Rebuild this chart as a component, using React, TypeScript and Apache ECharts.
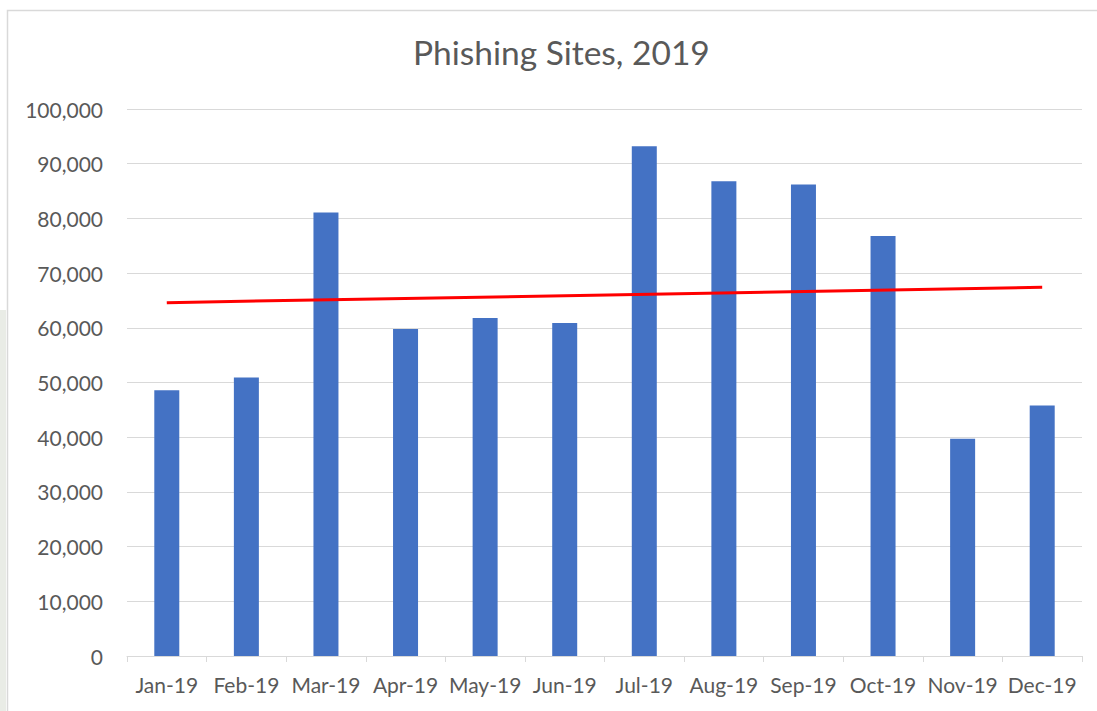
import React, { useEffect, useRef } from "react";
import * as echarts from "echarts";

const months = ["Jan-19", "Feb-19", "Mar-19", "Apr-19", "May-19", "Jun-19", "Jul-19", "Aug-19", "Sep-19", "Oct-19", "Nov-19", "Dec-19"];
const phishingSites = [48600, 50900, 81100, 59800, 61800, 60900, 93200, 86800, 86200, 76800, 39700, 45800];
// Linear trendline, read at its two ends (Jan and Dec)
const trendline = [64600, null, null, null, null, null, null, null, null, null, null, 67400];
const yTicks = { min: 0, max: 100000, interval: 10000 };

const FONT = "Lato";

export default function App() {
  const ref = useRef<HTMLDivElement>(null);
  useEffect(() => {
    if (!ref.current) return;
    const chart = echarts.init(ref.current, null, { renderer: "svg" });
    chart.setOption({
      animation: false,
      backgroundColor: "#ffffff",
      title: {
        text: "Phishing Sites, 2019",
        left: 408,
        top: 30,
        textStyle: { fontFamily: FONT, fontSize: 33.5, fontWeight: "normal", color: "#595959" },
      },
      grid: { left: 127, right: 15, top: 109, bottom: 55, containLabel: false },
      xAxis: {
        type: "category",
        data: months,
        boundaryGap: true,
        axisLine: { show: true, lineStyle: { color: "#d9d9d9", width: 1 } },
        axisTick: { show: true, alignWithLabel: false, length: 6, lineStyle: { color: "#d9d9d9" } },
        axisLabel: { margin: 18, fontFamily: FONT, fontSize: 21, color: "#595959", interval: 0 },
      },
      yAxis: {
        type: "value",
        min: yTicks.min,
        max: yTicks.max,
        interval: yTicks.interval,
        axisLine: { show: false },
        axisTick: { show: false },
        splitLine: { lineStyle: { color: "#d9d9d9", width: 1 } },
        axisLabel: {
          margin: 24,
          fontFamily: FONT,
          fontSize: 21,
          color: "#595959",
          formatter: (v: number) => v.toLocaleString("en-US"),
        },
      },
      series: [
        {
          type: "bar",
          data: phishingSites,
          barWidth: 25,
          itemStyle: { color: "#4472C4" },
        },
        {
          type: "line",
          data: trendline,
          connectNulls: true,
          showSymbol: false,
          symbol: "none",
          lineStyle: { color: "#ff0000", width: 3 },
          z: 5,
        },
      ],
      graphic: [
        {
          type: "rect",
          shape: { x: 0, y: 310, width: 6, height: 401 },
          style: { fill: "#e9ece6" },
          silent: true,
        },
        {
          type: "rect",
          shape: { x: 7.5, y: 10.5, width: 1100, height: 720 },
          style: { fill: "none", stroke: "#d9d9d9", lineWidth: 1.5 },
          silent: true,
        },
      ],
    });
    return () => chart.dispose();
  }, []);
  return (
    <div
      ref={ref}
      style={{ position: "fixed", left: 0, top: 0, width: 1097, height: 711, background: "#ffffff" }}
    />
  );
}
